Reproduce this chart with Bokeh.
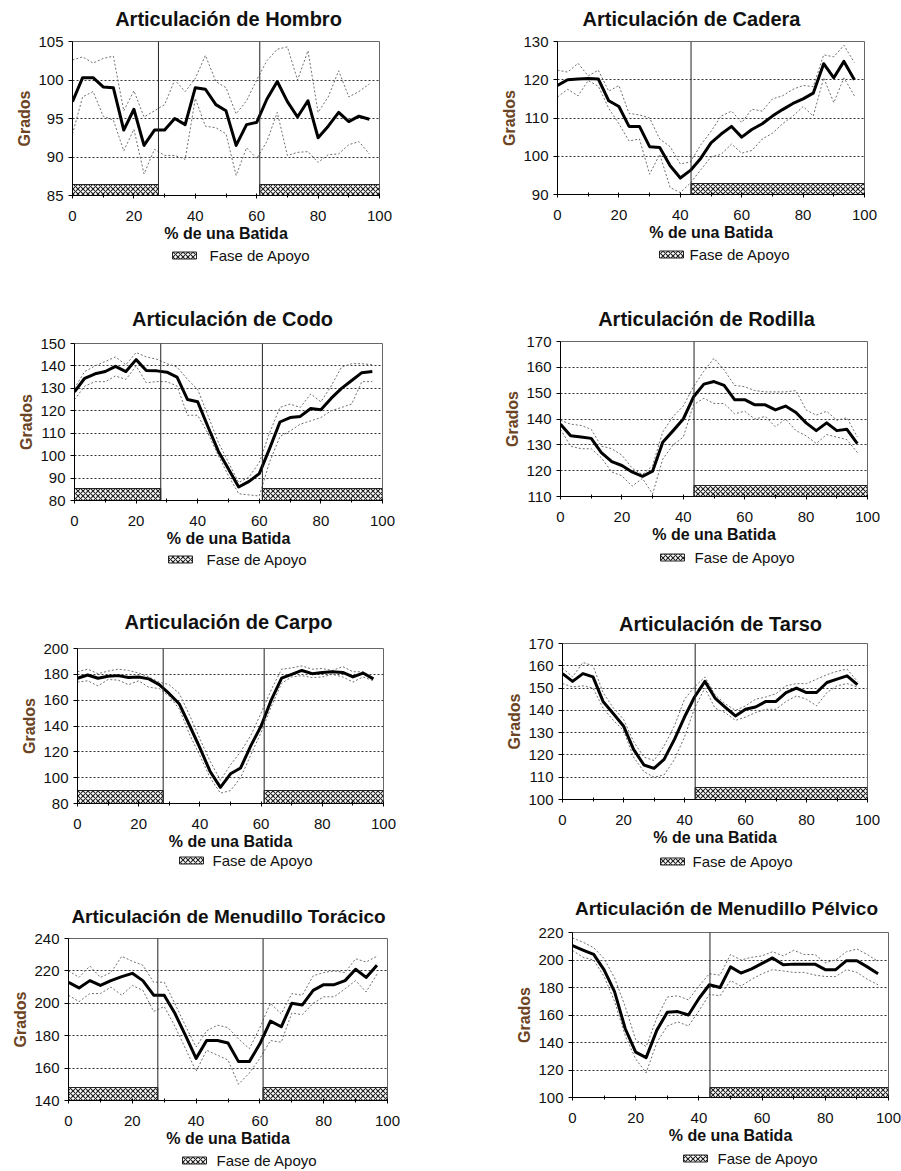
from bokeh.plotting import figure
from bokeh.models import Range1d, FixedTicker, Span
from bokeh.layouts import row, column
from bokeh.core.properties import value
from bokeh.embed import file_html
from bokeh.resources import INLINE

# ---------------- data ----------------
X_PCT = [0, 3.3, 6.7, 10, 13.3, 16.7, 20, 23.3, 26.7, 30, 33.3, 36.7, 40, 43.3, 46.7,
         50, 53.3, 56.7, 60, 63.3, 66.7, 70, 73.3, 76.7, 80, 83.3, 86.7, 90, 93.3, 96.7]
X_TICKS = [0, 20, 40, 60, 80, 100]
X_MINOR = [10, 30, 50, 70, 90]

# stance phases (% of stride)
FORE_STANCE_START = [0, 61]
FORE_STANCE_END = [28, 100]
HIND_STANCE_START = [43.5]
HIND_STANCE_END = [100]

HOMBRO_MEAN = [97.2, 100.3, 100.3, 99.1, 99.0, 93.5, 96.2, 91.5, 93.5, 93.5, 95.0, 94.2, 99.0, 98.8, 96.8,
               96.0, 91.5, 94.2, 94.5, 97.5, 99.8, 97.2, 95.2, 97.3, 92.5, 94.0, 95.8, 94.6, 95.3, 94.9]
HOMBRO_UP = [102.6, 103.0, 102.2, 102.8, 103.1, 96.0, 98.6, 95.2, 96.0, 96.8, 100.0, 98.5, 100.2, 103.2, 99.8,
             99.0, 95.6, 97.3, 100.0, 102.5, 104.0, 104.3, 100.0, 103.8, 95.8, 97.8, 101.2, 97.8, 98.5, 99.5]
HOMBRO_LO = [93.0, 97.8, 98.5, 95.3, 94.8, 90.8, 93.6, 87.8, 91.0, 90.2, 90.2, 89.7, 97.6, 94.0, 93.8,
             93.0, 87.6, 91.2, 89.8, 92.0, 95.8, 90.2, 90.6, 90.7, 89.3, 90.3, 90.4, 91.6, 92.0, 90.4]

CADERA_MEAN = [118.5, 120.0, 120.2, 120.3, 120.2, 114.5, 113.0, 107.8, 107.8, 102.5, 102.3, 97.5, 94.3, 96.3, 99.5,
               103.5, 105.8, 107.8, 105.0, 107.0, 108.5, 110.5, 112.2, 113.8, 115.0, 116.5, 124.2, 120.5, 124.8, 120.0]
CADERA_UP = [122.5, 122.0, 124.3, 121.0, 122.5, 117.0, 118.5, 111.2, 110.8, 110.0, 104.5, 102.5, 98.0, 98.5, 103.0,
             106.5, 110.5, 111.8, 108.8, 112.3, 111.8, 115.0, 115.8, 117.5, 118.5, 118.2, 126.5, 126.0, 129.0, 124.5]
CADERA_LO = [115.5, 117.5, 115.8, 119.8, 118.3, 112.5, 108.5, 104.0, 104.5, 95.3, 100.5, 91.8, 90.5, 93.0, 96.5,
             99.8, 100.5, 103.2, 100.8, 101.5, 104.5, 106.0, 108.5, 110.5, 113.0, 110.5, 120.5, 114.0, 120.5, 115.8]

CODO_MEAN = [128.5, 134.5, 136.5, 137.5, 139.8, 137.5, 142.8, 138.0, 137.8, 137.2, 135.0, 125.0, 124.0, 113.0, 102.0,
             94.0, 86.0, 88.5, 92.0, 103.0, 115.0, 117.0, 117.5, 121.0, 120.5, 125.5, 130.0, 133.5, 137.0, 137.5]
CODO_UP = [130.0, 137.5, 140.0, 142.0, 144.0, 140.5, 146.0, 144.0, 143.0, 141.0, 139.5, 134.0, 129.5, 118.0, 106.0,
           97.0, 88.0, 90.5, 97.0, 110.0, 121.5, 123.0, 121.5, 127.5, 124.0, 131.0, 139.5, 141.0, 141.0, 140.5]
CODO_LO = [125.0, 131.0, 133.0, 133.0, 135.5, 134.0, 140.0, 132.5, 133.0, 133.0, 131.0, 118.0, 118.0, 110.0, 100.0,
           91.0, 83.0, 82.5, 82.0, 97.0, 108.5, 111.0, 114.0, 115.5, 117.0, 120.0, 121.5, 123.0, 133.0, 133.0]

RODILLA_MEAN = [138.0, 133.5, 133.0, 132.5, 127.0, 123.5, 122.0, 119.5, 117.8, 119.8, 131.0, 135.5, 140.0, 148.5, 153.5,
                154.5, 153.0, 147.5, 147.5, 145.5, 145.5, 143.5, 145.0, 142.5, 138.5, 135.5, 138.5, 135.5, 136.0, 130.5]
RODILLA_UP = [139.5, 138.0, 137.5, 136.0, 129.5, 128.5, 126.0, 121.0, 118.5, 122.0, 135.0, 141.0, 145.0, 152.5, 158.5,
              163.5, 159.0, 153.0, 152.5, 151.0, 150.5, 150.5, 150.5, 151.0, 143.5, 141.5, 143.0, 139.5, 140.5, 133.0]
RODILLA_LO = [136.0, 129.5, 128.5, 128.5, 125.0, 119.5, 118.0, 114.0, 117.0, 111.0, 124.5, 130.0, 133.0, 145.5, 148.0,
              146.0, 146.0, 142.0, 143.0, 140.0, 141.0, 137.0, 140.0, 135.5, 133.5, 130.5, 134.0, 133.0, 132.0, 127.0]

CARPO_MEAN = [177.0, 179.5, 177.0, 178.5, 179.0, 177.5, 178.0, 176.5, 172.0, 165.0, 157.0, 140.0, 123.0, 105.0, 92.5,
              103.0, 107.5, 125.0, 140.0, 160.0, 177.0, 180.0, 183.0, 180.5, 181.5, 182.0, 181.5, 178.0, 181.0, 176.5]
CARPO_UP = [182.0, 184.0, 180.5, 182.5, 184.0, 183.0, 181.0, 178.0, 174.0, 172.0, 165.0, 148.0, 130.0, 113.0, 98.0,
            110.0, 120.0, 133.0, 150.0, 168.0, 184.0, 185.0, 186.5, 184.0, 184.5, 183.0, 186.0, 182.0, 182.0, 177.0]
CARPO_LO = [174.0, 175.0, 171.0, 176.0, 175.5, 172.0, 175.0, 170.0, 169.0, 163.0, 153.0, 133.0, 117.0, 100.0, 88.0,
            90.0, 100.0, 118.0, 135.0, 155.0, 173.0, 178.0, 179.0, 177.5, 178.0, 180.0, 178.0, 174.0, 178.0, 175.0]

TARSO_MEAN = [156.5, 153.0, 156.5, 155.0, 144.0, 138.5, 133.0, 122.5, 115.5, 114.0, 118.0, 127.0, 137.0, 146.0, 153.0,
              145.5, 141.5, 137.5, 140.5, 141.5, 144.0, 144.0, 148.0, 150.0, 148.0, 148.0, 152.5, 154.0, 155.5, 151.5]
TARSO_UP = [159.0, 155.0, 161.5, 160.0, 148.0, 141.0, 136.0, 126.0, 119.0, 117.5, 124.0, 133.0, 145.0, 150.5, 155.0,
            147.0, 143.0, 140.0, 142.0, 145.0, 146.0, 147.5, 151.0, 152.0, 152.0, 154.0, 156.0, 157.5, 158.5, 153.0]
TARSO_LO = [152.0, 150.5, 151.0, 150.0, 141.0, 135.5, 131.0, 119.0, 112.5, 110.0, 111.0, 118.0, 128.0, 141.0, 150.0,
            141.0, 139.0, 135.5, 137.0, 139.0, 140.5, 140.5, 144.0, 146.5, 145.0, 142.0, 148.0, 151.0, 152.0, 150.5]

TORACICO_MEAN = [213.0, 209.5, 214.0, 211.0, 214.0, 216.5, 218.5, 214.0, 205.0, 205.0, 194.0, 180.0, 166.0, 177.0, 177.0,
                 175.5, 164.0, 164.0, 175.0, 189.0, 185.5, 200.0, 199.0, 208.0, 211.5, 211.5, 214.0, 221.0, 216.0, 223.5]
TORACICO_UP = [220.0, 216.0, 223.0, 216.0, 219.0, 229.0, 226.0, 223.5, 213.0, 213.0, 200.0, 186.0, 173.0, 183.0, 186.5,
               185.0, 178.0, 172.0, 185.0, 200.0, 193.5, 206.0, 205.0, 217.0, 219.0, 220.0, 219.0, 227.5, 225.5, 229.0]
TORACICO_LO = [205.0, 201.0, 206.0, 206.0, 210.0, 205.0, 211.0, 208.0, 195.0, 198.0, 186.0, 172.0, 158.0, 171.0, 168.0,
               165.0, 150.0, 157.0, 166.0, 177.0, 176.0, 194.0, 193.0, 200.0, 204.0, 204.0, 209.0, 214.0, 207.0, 218.0]

PELVICO_MEAN = [210.4, 207.2, 204.1, 192.8, 177.0, 150.0, 133.0, 129.0, 149.0, 162.0, 162.5, 160.0, 172.0, 182.0, 180.0,
                195.0, 190.5, 193.5, 197.5, 201.5, 196.5, 197.0, 197.0, 197.0, 193.0, 193.0, 199.5, 199.5, 195.0, 190.0]
PELVICO_UP = [216.0, 213.0, 209.0, 201.0, 187.0, 166.0, 142.0, 137.0, 158.0, 173.0, 174.0, 171.0, 181.0, 190.0, 189.0,
              204.0, 200.0, 202.0, 203.0, 206.0, 203.0, 207.0, 204.0, 204.0, 198.0, 200.0, 206.0, 208.0, 204.0, 199.0]
PELVICO_LO = [207.0, 202.0, 200.0, 188.0, 170.0, 145.0, 128.0, 118.0, 140.0, 152.0, 155.0, 152.0, 163.0, 175.0, 174.0,
              185.0, 181.0, 186.0, 190.0, 193.0, 192.0, 191.0, 191.0, 189.0, 188.0, 188.0, 193.0, 191.0, 186.0, 182.0]

TITLES = ["Articulación de Hombro", "Articulación de Cadera",
          "Articulación de Codo", "Articulación de Rodilla",
          "Articulación de Carpo", "Articulación de Tarso",
          "Articulación de Menudillo Torácico", "Articulación de Menudillo Pélvico"]
X_LABEL = "% de una Batida"
Y_LABEL = "Grados"
LEGEND_LABEL = "Fase de Apoyo"

Y_RANGES = [(85, 105), (90, 130), (80, 150), (110, 170), (80, 200), (100, 170), (140, 240), (100, 220)]
Y_TICKS = [[85, 90, 95, 100, 105], [90, 100, 110, 120, 130],
           [80, 90, 100, 110, 120, 130, 140, 150], [110, 120, 130, 140, 150, 160, 170],
           [80, 100, 120, 140, 160, 180, 200], [100, 110, 120, 130, 140, 150, 160, 170],
           [140, 160, 180, 200, 220, 240], [100, 120, 140, 160, 180, 200, 220]]

SERIES = [(HOMBRO_MEAN, HOMBRO_UP, HOMBRO_LO), (CADERA_MEAN, CADERA_UP, CADERA_LO),
          (CODO_MEAN, CODO_UP, CODO_LO), (RODILLA_MEAN, RODILLA_UP, RODILLA_LO),
          (CARPO_MEAN, CARPO_UP, CARPO_LO), (TARSO_MEAN, TARSO_UP, TARSO_LO),
          (TORACICO_MEAN, TORACICO_UP, TORACICO_LO), (PELVICO_MEAN, PELVICO_UP, PELVICO_LO)]

FORE = (FORE_STANCE_START, FORE_STANCE_END)
HIND = (HIND_STANCE_START, HIND_STANCE_END)
STANCE = [FORE, HIND, FORE, HIND, FORE, HIND, FORE, HIND]

# ---------------- layout (pixels, relative to each cell's top-left) ----------------
ROW_H = [290, 290, 290, 301]
COL_W = [450, 451]
MAIN_TOP = 10      # border above the plot frame inside the main figure
MAIN_BOTTOM = 46   # room for the x axis below the frame
# frame left, frame right border, frame top, frame height,
# title centre x, title centre y, title px, legend swatch x, legend text x, legend centre y, stance-bar px
LAYOUT = [
    (72, 71, 41, 157, 228, 18, 20, 172, 209, 255, 11),
    (107, 37, 41, 156, 241, 18, 20, 209, 239, 254, 11),
    (74, 68, 53, 160, 232, 28, 20, 168, 206, 269, 12),
    (110, 34, 51, 158, 256, 28, 20, 210, 244, 267, 11),
    (77, 67, 68, 158, 228, 41, 20, 179, 212, 280, 13),
    (112, 34, 63, 159, 270, 43, 20, 210, 242, 281, 12),
    (68, 63, 68, 165, 228, 46, 19, 182, 216, 290, 13),
    (122, 13, 62, 168, 276, 38, 19, 233, 267, 288, 10),
]

FONT = "Liberation Sans"
TEXT_COLOR = "#111111"
HATCH = dict(fill_color="white", line_color="#222222", line_width=1,
             hatch_pattern="diagonal_cross", hatch_color="#222222",
             hatch_scale=5, hatch_weight=1.1)


def strip_fig(w, h, fl, fr):
    # strip whose frame lines up with the plot frame; x data units = cell pixels
    f = figure(width=w, height=h, x_range=Range1d(fl, w - fr), y_range=Range1d(0, h),
               x_axis_type=None, y_axis_type=None, title=None,
               min_border_left=fl, min_border_right=fr, min_border_top=0, min_border_bottom=0,
               output_backend="svg", toolbar_location=None,
               background_fill_color="white", border_fill_color="white")
    f.outline_line_color = None
    f.grid.visible = False
    return f


def make_cell(i):
    fl, fr, ft, fh, tcx, tcy, tpx, lsx, ltx, lcy, barpx = LAYOUT[i]
    W = COL_W[i % 2]
    H = ROW_H[i // 2]
    th = ft - MAIN_TOP
    mh = MAIN_TOP + fh + MAIN_BOTTOM
    lh = H - th - mh
    y0, y1 = Y_RANGES[i]

    # ---- title strip
    tf = strip_fig(W, th, fl, fr)
    tf.text(x=[tcx], y=[th - tcy], text=[TITLES[i]], text_font=value(FONT),
            text_font_style="bold", text_font_size="%dpx" % tpx, text_color=TEXT_COLOR,
            text_align="center", text_baseline="middle")

    # ---- main plot
    p = figure(width=W, height=mh, title=None,
               min_border_left=fl, min_border_right=fr, min_border_top=MAIN_TOP,
               min_border_bottom=MAIN_BOTTOM,
               x_range=Range1d(0, 100), y_range=Range1d(y0, y1),
               output_backend="svg", toolbar_location=None,
               background_fill_color="white", border_fill_color="white")
    p.outline_line_color = "#666666"
    p.outline_line_width = 1

    p.xgrid.visible = False
    p.ygrid.grid_line_color = "#333333"
    p.ygrid.grid_line_dash = "2 2"
    p.ygrid.grid_line_width = 1
    p.ygrid.ticker = FixedTicker(ticks=Y_TICKS[i])

    p.xaxis.ticker = FixedTicker(ticks=X_TICKS, minor_ticks=X_MINOR)
    p.yaxis.ticker = FixedTicker(ticks=Y_TICKS[i])
    for ax in (p.xaxis[0], p.yaxis[0]):
        ax.axis_line_color = "black"
        ax.axis_line_width = 1
        ax.major_tick_line_color = "black"
        ax.major_label_text_font = FONT
        ax.major_label_text_font_size = "15px"
        ax.major_label_text_color = TEXT_COLOR
        ax.axis_label_text_font = FONT
        ax.axis_label_text_font_style = "bold"
        ax.axis_label_text_font_size = "16px"
    p.xaxis.major_tick_in = 2
    p.xaxis.major_tick_out = 3
    p.xaxis.minor_tick_in = 2
    p.xaxis.minor_tick_out = 2
    p.xaxis.minor_tick_line_color = "black"
    p.xaxis.major_label_standoff = 12
    p.xaxis.axis_label = X_LABEL
    p.xaxis.axis_label_standoff = 1
    p.xaxis.axis_label_text_color = TEXT_COLOR

    p.yaxis.major_tick_in = 0
    p.yaxis.major_tick_out = 4
    p.yaxis.minor_tick_line_color = None
    p.yaxis.major_label_standoff = 5
    p.yaxis.axis_label = Y_LABEL
    p.yaxis.axis_label_standoff = 2
    p.yaxis.axis_label_text_color = "#6b4423"

    starts, ends = STANCE[i]
    cx = [(a + b) / 2 for a, b in zip(starts, ends)]
    wd = [b - a for a, b in zip(starts, ends)]
    p.rect(x=cx, y=[y0] * len(cx), width=wd, height=2 * barpx, height_units="screen", **HATCH)

    mean, up, lo = SERIES[i]
    p.line(X_PCT, up, line_color="#6f6f6f", line_width=1, line_dash="2 2")
    p.line(X_PCT, lo, line_color="#6f6f6f", line_width=1, line_dash="2 2")
    p.line(X_PCT, mean, line_color="black", line_width=3, line_join="round")

    bounds = sorted(set([s for s in starts if s > 0] + [e for e in ends if e < 100]))
    for b in bounds:
        p.add_layout(Span(location=b, dimension="height", line_color="#222222", line_width=1))

    # ---- legend strip
    lf = strip_fig(W, lh, fl, fr)
    ly = lh - (lcy - th - mh)
    lf.rect(x=[lsx + 12], y=[ly], width=24, height=7, **HATCH)
    lf.text(x=[ltx], y=[ly], text=[LEGEND_LABEL], text_font=value(FONT),
            text_font_size="15px", text_color=TEXT_COLOR,
            text_align="left", text_baseline="middle")

    return column(tf, p, lf)


cells = [make_cell(i) for i in range(8)]
layout = column(row(cells[0], cells[1]), row(cells[2], cells[3]),
                row(cells[4], cells[5]), row(cells[6], cells[7]))

open("out.html", "w").write(file_html(layout, INLINE))
